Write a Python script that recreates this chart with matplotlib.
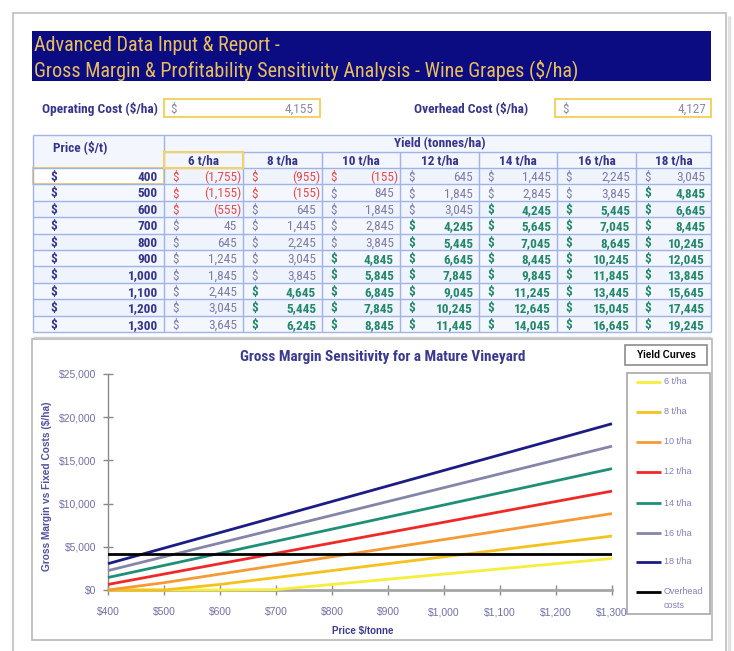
import matplotlib
matplotlib.use("Agg")
import matplotlib.pyplot as plt
from matplotlib.patches import Rectangle
import matplotlib.ticker as mticker
import numpy as np

# ---------------- data ----------------
prices = [400, 500, 600, 700, 800, 900, 1000, 1100, 1200, 1300]
yield_labels = ["6 t/ha", "8 t/ha", "10 t/ha", "12 t/ha", "14 t/ha", "16 t/ha", "18 t/ha"]
gm_6 = [-1755, -1155, -555, 45, 645, 1245, 1845, 2445, 3045, 3645]
gm_8 = [-955, -155, 645, 1445, 2245, 3045, 3845, 4645, 5445, 6245]
gm_10 = [-155, 845, 1845, 2845, 3845, 4845, 5845, 6845, 7845, 8845]
gm_12 = [645, 1845, 3045, 4245, 5445, 6645, 7845, 9045, 10245, 11445]
gm_14 = [1445, 2845, 4245, 5645, 7045, 8445, 9845, 11245, 12645, 14045]
gm_16 = [2245, 3845, 5445, 7045, 8645, 10245, 11845, 13445, 15045, 16645]
gm_18 = [3045, 4845, 6645, 8445, 10245, 12045, 13845, 15645, 17445, 19245]
series = [gm_6, gm_8, gm_10, gm_12, gm_14, gm_16, gm_18]
operating_cost = 4155
overhead_cost = 4127
legend_labels = yield_labels + ["Overhead\ncosts"]

line_colors = ["#F6EE3A", "#F5C21B", "#F59A34", "#F02828", "#1F8F78", "#8585A8", "#1C1C86"]

NARROW = ["Roboto Condensed", "Liberation Sans", "DejaVu Sans"]
ARIAL = ["Liberation Sans", "DejaVu Sans"]
NAVY_TXT = "#35358A"
GRID = "#9FB3E6"
YEL = "#F2D26A"
TS = 9.5  # table font size

W, H = 734, 651
fig = plt.figure(figsize=(W / 100, H / 100), dpi=100)
fig.patch.set_facecolor("white")

bg = fig.add_axes([0, 0, 1, 1])
bg.set_xlim(0, W)
bg.set_ylim(H, 0)
bg.axis("off")

def rect(x0, y0, x1, y1, **kw):
    bg.add_patch(Rectangle((x0, y0), x1 - x0, y1 - y0, **kw))

def hline(y, x0, x1, **kw):
    bg.plot([x0, x1], [y, y], solid_capstyle="butt", **kw)

def vline(x, y0, y1, **kw):
    bg.plot([x, x], [y0, y1], solid_capstyle="butt", **kw)

def tx(x, y, s, **kw):
    kw.setdefault("family", NARROW)
    kw.setdefault("va", "baseline")
    bg.text(x, y, s, **kw)

# page frame with shadow
rect(13, 13, 726, 660, facecolor="white", edgecolor="#C4C4C4", lw=1.3)
vline(729, 16, 651, color="#E2E2E2", lw=2.5)

# banner
rect(32, 31, 711, 81, facecolor="#0B0B82", edgecolor="none")
tx(34, 51, "Advanced Data Input & Report -", color="#E9BF5C", fontsize=14.5)
tx(34, 76, "Gross Margin & Profitability Sensitivity Analysis - Wine Grapes ($/ha)",
   color="#E9BF5C", fontsize=14.5)

# input boxes
tx(42, 112.5, "Operating Cost ($/ha)", color=NAVY_TXT, fontsize=9.6, fontweight="bold")
rect(164, 99, 320, 117, facecolor="white", edgecolor=YEL, lw=1.5)
tx(170, 112.5, "$", color="#8A8AA8", fontsize=TS)
tx(314, 112.5, f"{operating_cost:,}", color="#8A8AA8", fontsize=TS, ha="right")

tx(414, 112.5, "Overhead Cost ($/ha)", color=NAVY_TXT, fontsize=9.6, fontweight="bold")
rect(555, 99, 711, 117, facecolor="white", edgecolor=YEL, lw=1.5)
tx(562, 112.5, "$", color="#8A8AA8", fontsize=TS)
tx(706, 112.5, f"{overhead_cost:,}", color="#8A8AA8", fontsize=TS, ha="right")

# ---------------- table ----------------
col_x = [33, 164, 243, 322, 400, 479, 557, 636, 711]
top, h1, h2 = 135, 152, 168
rh = 16.4
row_y = [h2 + i * rh for i in range(len(prices) + 1)]
bottom = row_y[-1]

rect(33, top, 711, bottom, facecolor="#F4F6FD", edgecolor="none")
for i in range(len(prices)):
    rect(33, row_y[i], 711, row_y[i + 1], facecolor="#F5F7FE" if i % 2 else "#EFF3FC",
         edgecolor="none")

# grid
hline(top, 33, 711, color=GRID, lw=1)
hline(h1, 164, 711, color=GRID, lw=1)
for y in row_y:
    hline(y, 33, 711, color=GRID, lw=1)
for x in col_x:
    vline(x, top if x in (33, 164, 711) else h1, bottom, color=GRID, lw=1)

# header texts
tx(80, 151, "Price ($/t)", color=NAVY_TXT, fontsize=TS, fontweight="bold", ha="center")
tx(440, 147.5, "Yield (tonnes/ha)", color=NAVY_TXT, fontsize=TS, fontweight="bold",
   ha="center")
for j, lab in enumerate(yield_labels):
    cx = (col_x[j + 1] + col_x[j + 2]) / 2
    tx(cx, h1 + 13, lab, color=NAVY_TXT, fontsize=TS, fontweight="bold", ha="center")

# highlighted cells
rect(164, h1, 243, h2, facecolor="none", edgecolor=YEL, lw=1.5, zorder=5)
rect(33, row_y[0], 164, row_y[1], facecolor="#FFFFFF", edgecolor=YEL, lw=1.5, zorder=1)

for i, p in enumerate(prices):
    by = row_y[i] + 13
    tx(50, by, "$", color=NAVY_TXT, fontsize=TS, fontweight="bold", zorder=6)
    tx(158, by, f"{p:,}", color=NAVY_TXT, fontsize=TS, fontweight="bold", ha="right",
       zorder=6)
    for j, s in enumerate(series):
        v = s[i]
        x0, x1 = col_x[j + 1], col_x[j + 2]
        if v < 0:
            col, wt, txt, xr = "#E8494B", "normal", f"({abs(v):,})", x1 - 2
        elif v > overhead_cost:
            col, wt, txt, xr = "#23886A", "bold", f"{v:,}", x1 - 6
        else:
            col, wt, txt, xr = "#7C7CA6", "normal", f"{v:,}", x1 - 6
        tx(x0 + 8, by, "$", color=col, fontsize=TS, fontweight=wt, zorder=6)
        tx(xr, by, txt, color=col, fontsize=TS, fontweight=wt, ha="right", zorder=6)

# chart box
hline(337, 33, 711, color="#D0D0D0", lw=1)
rect(32, 339, 712, 640, facecolor="white", edgecolor="#B8B8B8", lw=1.2)

# chart title & labels
bg.text(383, 357, "Gross Margin Sensitivity for a Mature Vineyard", color="#3A3A90",
        fontsize=11, fontweight="bold", family=NARROW, va="center", ha="center")
bg.text(47, 486, "Gross Margin vs Fixed Costs ($/ha)", color="#5050A0", fontsize=7.3,
        fontweight="bold", family=ARIAL, va="center", ha="center", rotation=90)
bg.text(363, 631, "Price $/tonne", color="#3A3A90", fontsize=7,
        fontweight="bold", family=ARIAL, va="center", ha="center")

# legend
rect(625, 345, 707, 365, facecolor="white", edgecolor="#8C8C8C", lw=1.2)
bg.text(666, 355, "Yield Curves", color="black", fontsize=7, fontweight="bold",
        family=ARIAL, va="center", ha="center")
rect(627, 373, 710, 614, facecolor="white", edgecolor="#A8A8A8", lw=1.2)
leg_y = [382, 412, 442, 472, 503, 533, 562, 592]
leg_cols = line_colors + ["black"]
for lab, c, ly in zip(legend_labels, leg_cols, leg_y):
    hline(ly, 636, 661, color=c, lw=2)
    if "\n" in lab:
        a, b = lab.split("\n")
        bg.text(664, ly, a, color="#8080B8", fontsize=6.5, family=ARIAL, va="center")
        bg.text(664, ly + 13, b, color="#8080B8", fontsize=6.5, family=ARIAL, va="center")
    else:
        bg.text(664, ly, lab, color="#8080B8", fontsize=6.5, family=ARIAL, va="center")

# ---------------- chart ----------------
l, r, t, b = 108, 612, 374, 590
ax = fig.add_axes([l / W, 1 - b / H, (r - l) / W, (b - t) / H])
ax.set_facecolor("none")
ax.set_xlim(400, 1300)
ax.set_ylim(0, 25000)
ymin = ax.get_ylim()[0]
for s, c in zip(series, line_colors):
    # like Excel, points below the axis minimum are drawn on the axis
    ax.plot(prices, np.maximum(s, ymin), color=c, lw=2, solid_capstyle="butt",
            zorder=3, clip_on=False)
ax.plot([prices[0], prices[-1]], [overhead_cost, overhead_cost], color="black", lw=2,
        zorder=4)
ax.set_xticks(prices)
ax.set_yticks([0, 5000, 10000, 15000, 20000, 25000])
ax.xaxis.set_major_formatter(mticker.FuncFormatter(lambda v, p: f"${v:,.0f}"))
ax.yaxis.set_major_formatter(mticker.FuncFormatter(lambda v, p: f"${v:,.0f}"))
for sp in ["top", "right"]:
    ax.spines[sp].set_visible(False)
ax.spines["left"].set_color("#8A8A8A")
ax.spines["left"].set_linewidth(1)
ax.spines["bottom"].set_color("#A6A6A6")
ax.spines["bottom"].set_linewidth(2)
ax.spines["bottom"].set_zorder(2)
ax.tick_params(axis="both", direction="inout", length=7, width=1, color="#8A8A8A",
               labelsize=7.5, labelcolor="#7070A8", pad=5)
ax.tick_params(axis="x", pad=9)
for lbl in ax.get_xticklabels() + ax.get_yticklabels():
    lbl.set_family(ARIAL)

fig.savefig("out.png", dpi=100)
